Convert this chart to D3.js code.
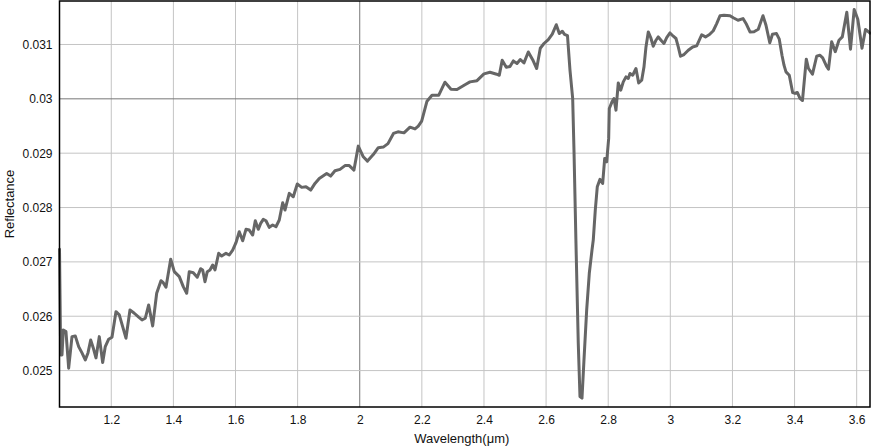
<!DOCTYPE html>
<html>
<head>
<meta charset="utf-8">
<script src="https://cdn.jsdelivr.net/npm/d3@7"></script>
<style>
  html, body { margin: 0; padding: 0; background: #fff; }
  svg { display: block; font-family: "Liberation Sans", Arial, sans-serif; }
</style>
</head>
<body>
<svg id="chart"></svg>
<script>
// wavelength (µm) and reflectance
var wavelength = [
  1.0333, 1.0371, 1.0413, 1.0455, 1.0541, 1.0628, 1.0735, 1.0841, 1.0950, 1.1057,
  1.1163, 1.1250, 1.1337, 1.1420, 1.1507, 1.1614, 1.1723, 1.1807, 1.1916, 1.2023,
  1.2151, 1.2258, 1.2367, 1.2473, 1.2602, 1.2741, 1.2882, 1.2989, 1.3095, 1.3204,
  1.3333, 1.3462, 1.3600, 1.3674, 1.3761, 1.3913, 1.4029, 1.4190, 1.4318, 1.4428,
  1.4511, 1.4640, 1.4769, 1.4879, 1.4943, 1.5017, 1.5091, 1.5178, 1.5265, 1.5339,
  1.5458, 1.5555, 1.5693, 1.5799, 1.5909, 1.6015, 1.6121, 1.6231, 1.6337, 1.6443,
  1.6553, 1.6637, 1.6733, 1.6810, 1.6894, 1.6981, 1.7087, 1.7197, 1.7303, 1.7409,
  1.7519, 1.7593, 1.7731, 1.7860, 1.7989, 1.8131, 1.8269, 1.8420, 1.8559, 1.8697,
  1.8935, 1.9064, 1.9203, 1.9364, 1.9525, 1.9663, 1.9814, 1.9953, 2.0114, 2.0249,
  2.0436, 2.0597, 2.0758, 2.0909, 2.1086, 2.1231, 2.1424, 2.1618, 2.1779, 2.1885,
  2.1994, 2.2165, 2.2326, 2.2545, 2.2744, 2.2938, 2.3131, 2.3388, 2.3549, 2.3775,
  2.4000, 2.4193, 2.4409, 2.4493, 2.4586, 2.4718, 2.4837, 2.4944, 2.5063, 2.5169,
  2.5288, 2.5427, 2.5568, 2.5697, 2.5813, 2.5932, 2.6071, 2.6199, 2.6328, 2.6425,
  2.6521, 2.6592, 2.6689, 2.6769, 2.6856, 2.6898, 2.6962, 2.7036, 2.7091, 2.7156,
  2.7220, 2.7307, 2.7391, 2.7478, 2.7519, 2.7584, 2.7648, 2.7735, 2.7822, 2.7887,
  2.7951, 2.8015, 2.8035, 2.8122, 2.8186, 2.8250, 2.8324, 2.8402, 2.8485, 2.8572,
  2.8646, 2.8701, 2.8788, 2.8894, 2.8981, 2.9078, 2.9152, 2.9216, 2.9290, 2.9368,
  2.9451, 2.9538, 2.9612, 2.9722, 2.9796, 2.9883, 2.9989, 3.0095, 3.0182, 3.0256,
  3.0327, 3.0440, 3.0578, 3.0720, 3.0849, 3.1010, 3.1132, 3.1261, 3.1383, 3.1493,
  3.1599, 3.1728, 3.1921, 3.2027, 3.2179, 3.2340, 3.2452, 3.2565, 3.2694, 3.2832,
  3.2983, 3.3080, 3.3202, 3.3289, 3.3418, 3.3508, 3.3595, 3.3660, 3.3724, 3.3830,
  3.3940, 3.4014, 3.4088, 3.4175, 3.4255, 3.4378, 3.4448, 3.4577, 3.4712, 3.4819,
  3.4906, 3.5028, 3.5092, 3.5195, 3.5311, 3.5430, 3.5537, 3.5682, 3.5801, 3.5920,
  3.6036, 3.6171, 3.6284, 3.6380, 3.6429
];
var reflectance = [
  0.027231, 0.025289, 0.025289, 0.025748, 0.025717, 0.025044, 0.025625, 0.025638, 0.025441, 0.025325,
  0.025197, 0.025325, 0.025564, 0.025417, 0.025233, 0.025625, 0.025147, 0.025441, 0.025577, 0.025614,
  0.026084, 0.026024, 0.025809, 0.025596, 0.026116, 0.026055, 0.025982, 0.025932, 0.025963, 0.026208,
  0.025822, 0.026423, 0.026654, 0.026617, 0.026533, 0.027048, 0.026820, 0.026728, 0.026544, 0.026423,
  0.026820, 0.026801, 0.026717, 0.026875, 0.026851, 0.026636, 0.026820, 0.026851, 0.026943, 0.026851,
  0.027158, 0.027108, 0.027158, 0.027127, 0.027218, 0.027353, 0.027555, 0.027389, 0.027599, 0.027586,
  0.027494, 0.027757, 0.027599, 0.027709, 0.027783, 0.027757, 0.027636, 0.027678, 0.027647, 0.027770,
  0.028088, 0.027954, 0.028261, 0.028198, 0.028432, 0.028371, 0.028382, 0.028321, 0.028444, 0.028536,
  0.028628, 0.028579, 0.028676, 0.028702, 0.028772, 0.028772, 0.028689, 0.029130, 0.028933, 0.028854,
  0.028974, 0.029102, 0.029112, 0.029176, 0.029363, 0.029393, 0.029374, 0.029479, 0.029446, 0.029498,
  0.029590, 0.029957, 0.030067, 0.030067, 0.030306, 0.030178, 0.030172, 0.030260, 0.030312, 0.030334,
  0.030459, 0.030490, 0.030453, 0.030434, 0.030711, 0.030582, 0.030595, 0.030698, 0.030650, 0.030724,
  0.030661, 0.030863, 0.030720, 0.030558, 0.030931, 0.031018, 0.031091, 0.031189, 0.031363, 0.031201,
  0.031244, 0.031185, 0.031161, 0.030527, 0.030007, 0.029057, 0.027342, 0.025504, 0.024522, 0.024493,
  0.025197, 0.026116, 0.026790, 0.027218, 0.027402, 0.027954, 0.028382, 0.028518, 0.028444, 0.028904,
  0.028841, 0.029272, 0.029823, 0.029944, 0.030007, 0.029792, 0.030293, 0.030159, 0.030312, 0.030404,
  0.030374, 0.030466, 0.030434, 0.030558, 0.030293, 0.030343, 0.030588, 0.030955, 0.031231, 0.031128,
  0.030968, 0.031078, 0.031139, 0.031065, 0.031018, 0.031128, 0.031212, 0.031152, 0.031110, 0.030955,
  0.030784, 0.030815, 0.030895, 0.030955, 0.030974, 0.031179, 0.031139, 0.031183, 0.031253, 0.031385,
  0.031529, 0.031538, 0.031529, 0.031492, 0.031446, 0.031477, 0.031372, 0.031231, 0.031235, 0.031280,
  0.031529, 0.031354, 0.031032, 0.031189, 0.031201, 0.031097, 0.030803, 0.030619, 0.030496, 0.030434,
  0.030113, 0.030099, 0.030117, 0.030007, 0.029970, 0.030729, 0.030558, 0.030453, 0.030784, 0.030803,
  0.030753, 0.030600, 0.030545, 0.031051, 0.030867, 0.031078, 0.031139, 0.031593, 0.030913, 0.031644,
  0.031464, 0.030931, 0.031277, 0.031235, 0.031207
];
var xTicks = [1.2, 1.4, 1.6, 1.8, 2, 2.2, 2.4, 2.6, 2.8, 3, 3.2, 3.4, 3.6];
var xTickLabels = ["1.2", "1.4", "1.6", "1.8", "2", "2.2", "2.4", "2.6", "2.8", "3", "3.2", "3.4", "3.6"];
var yTicks = [0.025, 0.026, 0.027, 0.028, 0.029, 0.03, 0.031];
var yTickLabels = ["0.025", "0.026", "0.027", "0.028", "0.029", "0.03", "0.031"];
var xTitle = "Wavelength(μm)";
var yTitle = "Reflectance";

var width = 871, height = 448;
var margin = {left: 59.5, right: 1, top: 1, bottom: 41};
var yDomain = [0.02433, 0.0318];

var svg = d3.select("#chart").attr("width", width).attr("height", height);

var xScale = d3.scaleLinear()
  .domain(d3.extent(wavelength))
  .range([margin.left, width - margin.right]);
var yScale = d3.scaleLinear()
  .domain(yDomain)
  .range([height - margin.bottom, margin.top]);

var plotW = width - margin.right - margin.left;
var plotH = height - margin.bottom - margin.top;

// grid: the 2 µm and 0.03 lines are drawn darker
var grid = svg.append("g").attr("class", "grid");
grid.selectAll("line.v")
  .data(xTicks)
  .enter()
  .append("line")
  .attr("x1", function(d) { return xScale(d); })
  .attr("x2", function(d) { return xScale(d); })
  .attr("y1", margin.top)
  .attr("y2", height - margin.bottom)
  .attr("stroke", function(d) { return d === 2 ? "#777" : "#c4c4c4"; })
  .attr("stroke-width", 1);
grid.selectAll("line.h")
  .data(yTicks)
  .enter()
  .append("line")
  .attr("x1", margin.left)
  .attr("x2", width - margin.right)
  .attr("y1", function(d) { return yScale(d); })
  .attr("y2", function(d) { return yScale(d); })
  .attr("stroke", function(d) { return d === 0.03 ? "#777" : "#c4c4c4"; })
  .attr("stroke-width", 1);

// spectrum
var points = wavelength.map(function(w, i) { return [w, reflectance[i]]; });
var line = d3.line()
  .x(function(d) { return xScale(d[0]); })
  .y(function(d) { return yScale(d[1]); });
svg.append("path")
  .datum(points)
  .attr("d", line)
  .attr("fill", "none")
  .attr("stroke", "#666")
  .attr("stroke-width", 3)
  .attr("stroke-linejoin", "round")
  .attr("stroke-linecap", "round");

// frame
svg.append("rect")
  .attr("x", margin.left)
  .attr("y", margin.top)
  .attr("width", plotW)
  .attr("height", plotH)
  .attr("fill", "none")
  .attr("stroke", "#000")
  .attr("stroke-width", 1.5);

// axes (labels only, grid handles the lines)
var xAxis = d3.axisBottom(xScale)
  .tickValues(xTicks)
  .tickFormat(function(d, i) { return xTickLabels[i]; })
  .tickSize(0)
  .tickPadding(8);
var yAxis = d3.axisLeft(yScale)
  .tickValues(yTicks)
  .tickFormat(function(d, i) { return yTickLabels[i]; })
  .tickSize(0)
  .tickPadding(7);

svg.append("g")
  .attr("transform", "translate(0," + (height - margin.bottom) + ")")
  .call(xAxis)
  .call(function(g) { g.select(".domain").remove(); })
  .selectAll("text")
  .attr("font-size", 12)
  .attr("font-family", "Liberation Sans, Arial, sans-serif")
  .attr("fill", "#111");

svg.append("g")
  .attr("transform", "translate(" + margin.left + ",0)")
  .call(yAxis)
  .call(function(g) { g.select(".domain").remove(); })
  .selectAll("text")
  .attr("font-size", 12)
  .attr("font-family", "Liberation Sans, Arial, sans-serif")
  .attr("fill", "#111");

svg.append("text")
  .attr("x", margin.left + plotW / 2 - 3)
  .attr("y", 443)
  .attr("text-anchor", "middle")
  .attr("font-size", 13)
  .attr("fill", "#111")
  .text(xTitle);

svg.append("text")
  .attr("transform", "translate(14," + (margin.top + plotH / 2) + ") rotate(-90)")
  .attr("text-anchor", "middle")
  .attr("font-size", 13)
  .attr("fill", "#111")
  .text(yTitle);
</script>
</body>
</html>
